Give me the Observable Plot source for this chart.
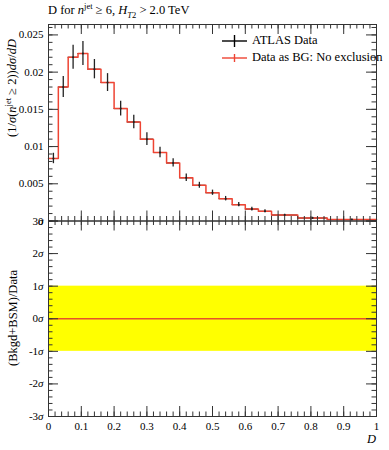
<!DOCTYPE html>
<html>
<head>
<meta charset="utf-8">
<script src="https://cdn.jsdelivr.net/npm/d3@7"></script>
<script src="https://cdn.jsdelivr.net/npm/@observablehq/plot@0.6"></script>
<style>
  html, body { margin: 0; padding: 0; background: #fff; }
  #wrap { position: relative; width: 389px; height: 450px; font-family: "Liberation Serif", serif; color: #000; overflow: hidden; }
  .abs { position: absolute; white-space: nowrap; line-height: 14px; }
  sup, sub { font-size: 8.5px; line-height: 0; }
  .rot { transform: translate(-50%, -50%) rotate(-90deg); font-size: 12.5px; }
  .leg { position: absolute; left: 222px; font-size: 12.5px; line-height: 14px; white-space: nowrap; }
  .leg svg { vertical-align: middle; margin-right: 4px; }
</style>
</head>
<body>
<div id="wrap">
  <div id="topPlot" class="abs" style="left:0;top:0"></div>
  <div id="botPlot" class="abs" style="left:0;top:200px"></div>
  <div class="abs" style="left:48px;top:3px;font-size:12.5px">D for <i>n</i><sup>jet</sup> ≥ 6, <i>H</i><sub><i>T</i>2</sub> &gt; 2.0 TeV</div>
  <div class="abs rot" style="left:12px;top:88px">(1/<i>σ</i>(<i>n</i><sup>jet</sup> ≥ 2))<i>dσ</i>/<i>dD</i></div>
  <div class="abs rot" style="left:13px;top:318px">(Bkgd+BSM)/Data</div>
  <div class="abs" style="left:367px;top:432px;font-size:12.5px"><i>D</i></div>
  <div class="leg" style="top:33px"><svg width="26" height="14"><line x1="0" x2="25" y1="7" y2="7" stroke="#000" stroke-width="1.4"/><line x1="12.5" x2="12.5" y1="1" y2="13" stroke="#000" stroke-width="1.4"/></svg>ATLAS Data</div>
  <div class="leg" style="top:50px"><svg width="26" height="14"><line x1="0" x2="25" y1="7" y2="7" stroke="#ee4433" stroke-width="1.4"/><line x1="12.5" x2="12.5" y1="3" y2="11" stroke="#ee4433" stroke-width="1.4"/></svg>Data as BG: No exclusion</div>
</div>
<script>
// ---- data ----
const binEdges = [0, 0.03, 0.06, 0.09, 0.12, 0.16, 0.20, 0.24, 0.28, 0.32, 0.36, 0.40, 0.44, 0.48, 0.52, 0.56, 0.60, 0.64, 0.68, 0.76, 0.85, 1.0];
const dataValues = [0.0084, 0.0180, 0.0220, 0.0225, 0.0204, 0.0186, 0.0151, 0.0133, 0.0110, 0.0092, 0.0078, 0.0058, 0.0048, 0.0038, 0.0030, 0.0022, 0.0016, 0.0013, 0.0008, 0.0004, 0.0002];
const dataErrors = [0.0007, 0.0014, 0.0016, 0.0016, 0.0013, 0.0012, 0.0010, 0.0009, 0.00085, 0.0007, 0.00055, 0.0005, 0.0004, 0.00035, 0.0003, 0.0003, 0.00025, 0.0002, 0.0001, 0.0001, 0.00005];
const bgValues = [0.0084, 0.0180, 0.0220, 0.0225, 0.0204, 0.0186, 0.0151, 0.0133, 0.0110, 0.0092, 0.0078, 0.0058, 0.0048, 0.0038, 0.0030, 0.0022, 0.0016, 0.0013, 0.0008, 0.0004, 0.0002];
const ratioValues = [0];
const bandLow = -1, bandHigh = 1;
const xDomain = [0, 1];
const yDomain = [0, 0.0264];
const sigmaDomain = [-3, 3];
const xTicks = [0, 0.1, 0.2, 0.3, 0.4, 0.5, 0.6, 0.7, 0.8, 0.9, 1];
const xTickLabels = ["0", "0.1", "0.2", "0.3", "0.4", "0.5", "0.6", "0.7", "0.8", "0.9", "1"];
const yTicks = [0, 0.005, 0.01, 0.015, 0.02, 0.025];
const yTickLabels = ["0", "0.005", "0.01", "0.015", "0.02", "0.025"];
const sigmaTicks = [-3, -2, -1, 0, 1, 2, 3];
const sigmaLabels = ["-3σ", "-2σ", "-1σ", "0σ", "1σ", "2σ", "3σ"];

// ---- derived tables ----
const bins = dataValues.map((v, i) => ({
  x1: binEdges[i], x2: binEdges[i + 1], xc: (binEdges[i] + binEdges[i + 1]) / 2,
  v, e: dataErrors[i]
}));
const steps = binEdges.map((x, i) => ({x, y: bgValues[Math.min(i, bgValues.length - 1)]}));
const xMinor = d3.range(0, 1.0001, 0.02);
const yMinor = d3.range(0, 0.0262, 0.001);
const sMinor = d3.range(-3, 3.0001, 0.2);

const W = 389, mL = 48, mR = 13;
const innerW = W - mL - mR;
const MAJ = 10, MIN = 4.5;
const frameCol = "#333";
const red = "#ee4433";
const font = "'Liberation Serif', serif";

function tickSet(xs, ys, innerH, yMaj, yMin) {
  return [
    Plot.tickX(xTicks, {x: d => d, insetBottom: innerH - MAJ, stroke: frameCol}),
    Plot.tickX(xMinor, {x: d => d, insetBottom: innerH - MIN, stroke: frameCol}),
    Plot.tickX(xTicks, {x: d => d, insetTop: innerH - MAJ, stroke: frameCol}),
    Plot.tickX(xMinor, {x: d => d, insetTop: innerH - MIN, stroke: frameCol}),
    Plot.tickY(yMaj, {y: d => d, insetRight: innerW - MAJ, stroke: frameCol}),
    Plot.tickY(yMin, {y: d => d, insetRight: innerW - MIN, stroke: frameCol}),
    Plot.tickY(yMaj, {y: d => d, insetLeft: innerW - MAJ, stroke: frameCol}),
    Plot.tickY(yMin, {y: d => d, insetLeft: innerW - MIN, stroke: frameCol})
  ];
}

// ---- top panel ----
const topH = 221, topMT = 24, topMB = 0.5;
const topInner = topH - topMT - topMB;
const topPlot = Plot.plot({
  width: W, height: topH,
  marginLeft: mL, marginRight: mR, marginTop: topMT, marginBottom: topMB,
  x: {domain: xDomain, axis: null},
  y: {domain: yDomain},
  style: {background: "transparent", overflow: "visible", fontFamily: font, fontSize: "11px", color: "#000"},
  marks: [
    Plot.ruleY(bins, {x1: "x1", x2: "x2", y: "v", stroke: "#000"}),
    Plot.line(steps, {x: "x", y: "y", curve: "step-after", stroke: red, strokeWidth: 1.5}),
    Plot.ruleX(bins, {x: "xc", y1: d => d.v - d.e, y2: d => d.v + d.e, stroke: "#222", strokeWidth: 1.3}),
    Plot.dot(bins, {x: "xc", y: "v", r: 1, fill: "#222"}),
    ...tickSet(xTicks, yTicks, topInner, yTicks, yMinor),
    Plot.axisY({ticks: yTicks, tickSize: 0, tickPadding: 5, label: null,
      tickFormat: d => yTickLabels[yTicks.indexOf(d)]}),
    Plot.frame({stroke: frameCol})
  ]
});
document.getElementById("topPlot").appendChild(topPlot);

// ---- bottom panel ----
const botH = 250, botMT = 20.5, botMB = 34;
const botInner = botH - botMT - botMB;
const botPlot = Plot.plot({
  width: W, height: botH,
  marginLeft: mL, marginRight: mR, marginTop: botMT, marginBottom: botMB,
  x: {domain: xDomain},
  y: {domain: sigmaDomain},
  style: {background: "transparent", overflow: "visible", fontFamily: font, fontSize: "11px", color: "#000"},
  marks: [
    Plot.rect([{lo: bandLow, hi: bandHigh}], {x1: () => xDomain[0], x2: () => xDomain[1], y1: "lo", y2: "hi", fill: "#ffff00"}),
    Plot.ruleY(ratioValues, {y: d => d, stroke: "#e8502a", strokeWidth: 1.5}),
    ...tickSet(xTicks, sigmaTicks, botInner, sigmaTicks, sMinor),
    Plot.axisX({ticks: xTicks, tickSize: 0, tickPadding: 6, label: null,
      tickFormat: d => xTickLabels[xTicks.indexOf(d)]}),
    Plot.axisY({ticks: sigmaTicks, tickSize: 0, tickPadding: 5, label: null,
      tickFormat: d => sigmaLabels[sigmaTicks.indexOf(d)]}),
    Plot.frame({stroke: frameCol})
  ]
});
document.getElementById("botPlot").appendChild(botPlot);

// italic sigma in the ratio-axis labels
d3.select(botPlot).selectAll("text").each(function () {
  const t = this.textContent;
  if (t.endsWith("σ")) {
    this.textContent = t.slice(0, -1);
    d3.select(this).append("tspan").attr("font-style", "italic").text("σ");
  }
});
</script>
</body>
</html>
